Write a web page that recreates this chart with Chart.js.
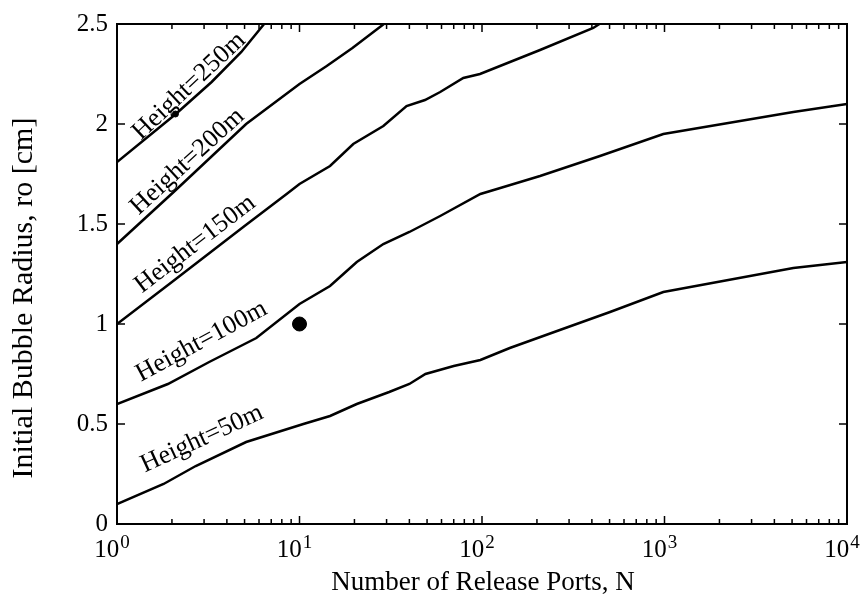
<!DOCTYPE html>
<html>
<head>
<meta charset="utf-8">
<script src="https://cdn.jsdelivr.net/npm/chart.js@4"></script>
<style>
    body { margin: 0; background: #fff; }
    #wrap { width: 865px; height: 599px; }
</style>
</head>
<body>
<div id="wrap"><canvas id="bubbleChart" width="865" height="599"></canvas></div>
<script>
// values: number of ports N vs initial radius ro [cm]
const ports50 = [1, 1.8, 2.7, 5.1, 10.5, 14.7, 20.6, 31, 40, 49, 70, 98, 142, 267, 503, 985, 5080, 10000];
const radius50 = [0.10, 0.20, 0.29, 0.41, 0.50, 0.54, 0.60, 0.66, 0.70, 0.75, 0.79, 0.82, 0.88, 0.97, 1.06, 1.16, 1.28, 1.31];

const ports100 = [1, 1.9, 3.2, 5.8, 10, 14.7, 17.4, 20.6, 28.8, 40, 59, 98, 126, 208, 443, 985, 5080, 10000];
const radius100 = [0.60, 0.70, 0.81, 0.93, 1.10, 1.19, 1.25, 1.31, 1.40, 1.46, 1.54, 1.65, 1.68, 1.74, 1.84, 1.95, 2.06, 2.10];

const ports150 = [1, 2, 5, 8.5, 10, 14.7, 19.7, 28.8, 38.6, 48.7, 59, 79, 97.5, 208, 407, 440];
const radius150 = [1.00, 1.21, 1.49, 1.65, 1.70, 1.79, 1.90, 1.99, 2.09, 2.12, 2.16, 2.23, 2.25, 2.37, 2.48, 2.50];

const ports200 = [1, 2.1, 5.1, 10, 14.1, 19.5, 29];
const radius200 = [1.40, 1.67, 2.00, 2.20, 2.29, 2.38, 2.50];

const ports250 = [1, 2.1, 3.3, 4.8, 6.4];
const radius250 = [1.81, 2.05, 2.21, 2.36, 2.50];

const heightLabels = ["Height=50m", "Height=100m", "Height=150m", "Height=200m", "Height=250m"];
const labelPorts = [3.28, 3.31, 3.03, 2.71, 2.75];

const markerPorts = [10, 2.09];
const markerRadius = [1.0, 2.05];

const xMajorTicks = [1, 10, 100, 1000, 10000];
const xExponents = ["0", "1", "2", "3", "4"];
const minorSteps = [2, 3, 4, 5, 6, 7, 8, 9];
const yTicks = [0, 0.5, 1, 1.5, 2, 2.5];
const yTickLabels = ["0", "0.5", "1", "1.5", "2", "2.5"];

const serif = "'Liberation Serif', 'Times New Roman', serif";

function toPoints(xs, ys) {
    return xs.map((x, i) => ({ x: x, y: ys[i] }));
}

const curves = [
    toPoints(ports50, radius50),
    toPoints(ports100, radius100),
    toPoints(ports150, radius150),
    toPoints(ports200, radius200),
    toPoints(ports250, radius250)
];

const lineSets = curves.map((pts, i) => ({
    label: heightLabels[i],
    data: pts,
    borderColor: "#000",
    borderWidth: 2.5,
    pointRadius: 0,
    tension: 0,
    fill: false
}));

const markerSet = {
    type: "scatter",
    label: "measured",
    data: toPoints(markerPorts, markerRadius),
    pointRadius: [7, 3],
    backgroundColor: "#000",
    borderColor: "#000"
};

// y on a drawn polyline at a pixel x
function yAtPixel(meta, px) {
    const pts = meta.data;
    for (let i = 1; i < pts.length; i++) {
        if (px <= pts[i].x) {
            const a = pts[i - 1], b = pts[i];
            const t = (px - a.x) / (b.x - a.x);
            return a.y + t * (b.y - a.y);
        }
    }
    return pts[pts.length - 1].y;
}

const labelOffsets = [15, 15, 9, 6, 5];

const framePlugin = {
    id: "frame",
    afterDatasetsDraw(chart) {
        const ctx = chart.ctx;
        const area = chart.chartArea;
        const xs = chart.scales.x;
        const ys = chart.scales.y;
        ctx.save();

        // box
        ctx.strokeStyle = "#000";
        ctx.lineWidth = 2;
        ctx.strokeRect(area.left, area.top, area.right - area.left, area.bottom - area.top);

        // inward ticks
        ctx.lineWidth = 1.5;
        ctx.beginPath();
        xMajorTicks.forEach((v, k) => {
            const px = xs.getPixelForValue(v);
            ctx.moveTo(px, area.bottom); ctx.lineTo(px, area.bottom - 8);
            ctx.moveTo(px, area.top); ctx.lineTo(px, area.top + 8);
            if (k < xMajorTicks.length - 1) {
                minorSteps.forEach(m => {
                    const mx = xs.getPixelForValue(v * m);
                    ctx.moveTo(mx, area.bottom); ctx.lineTo(mx, area.bottom - 5);
                    ctx.moveTo(mx, area.top); ctx.lineTo(mx, area.top + 5);
                });
            }
        });
        yTicks.forEach(v => {
            const py = ys.getPixelForValue(v);
            ctx.moveTo(area.left, py); ctx.lineTo(area.left + 8, py);
            ctx.moveTo(area.right, py); ctx.lineTo(area.right - 8, py);
        });
        ctx.stroke();

        // x tick labels as 10 with a raised exponent
        ctx.fillStyle = "#000";
        ctx.textBaseline = "alphabetic";
        ctx.textAlign = "left";
        xMajorTicks.forEach((v, k) => {
            const px = xs.getPixelForValue(v);
            ctx.font = "25px " + serif;
            const w1 = ctx.measureText("10").width;
            ctx.font = "19px " + serif;
            const w2 = ctx.measureText(xExponents[k]).width;
            const start = px - 5 - (w1 + w2 + 1) / 2;
            ctx.font = "25px " + serif;
            ctx.fillText("10", start, 557);
            ctx.font = "19px " + serif;
            ctx.fillText(xExponents[k], start + w1 + 1, 548);
        });

        // axis titles
        ctx.font = "27px " + serif;
        ctx.textAlign = "center";
        ctx.fillText("Number of Release Ports, N", 483, 590);
        ctx.save();
        ctx.translate(32, 298);
        ctx.rotate(-Math.PI / 2);
        ctx.font = "30px " + serif;
        ctx.fillText("Initial Bubble Radius, ro [cm]", 0, 0);
        ctx.restore();

        // curve labels along the lines
        ctx.font = "26px " + serif;
        ctx.textAlign = "center";
        ctx.textBaseline = "alphabetic";
        heightLabels.forEach((txt, i) => {
            const meta = chart.getDatasetMeta(i);
            const cx = xs.getPixelForValue(labelPorts[i]);
            const cy = yAtPixel(meta, cx);
            const y1 = yAtPixel(meta, cx - 60);
            const y2 = yAtPixel(meta, cx + 60);
            const ang = Math.atan2(y2 - y1, 120);
            const d = labelOffsets[i];
            ctx.save();
            ctx.translate(cx + d * Math.sin(ang), cy - d * Math.cos(ang));
            ctx.rotate(ang);
            ctx.fillText(txt, 0, 0);
            ctx.restore();
        });

        ctx.restore();
    }
};

new Chart(document.getElementById("bubbleChart"), {
    type: "line",
    data: { datasets: lineSets.concat([markerSet]) },
    options: {
        responsive: false,
        animation: false,
        layout: { padding: { top: 23, right: 18, left: 0, bottom: 0 } },
        plugins: { legend: { display: false }, tooltip: { enabled: false } },
        scales: {
            x: {
                type: "logarithmic",
                min: 1,
                max: 10000,
                grid: { display: false },
                border: { display: false },
                ticks: { display: false },
                afterFit(scale) { scale.height = 75; }
            },
            y: {
                type: "linear",
                min: 0,
                max: 2.5,
                grid: { display: false, drawTicks: false },
                border: { display: false },
                afterBuildTicks(scale) { scale.ticks = yTicks.map(v => ({ value: v })); },
                ticks: {
                    color: "#000",
                    padding: 9,
                    font: { family: serif, size: 25 },
                    callback: (v) => yTickLabels[yTicks.indexOf(v)]
                },
                afterFit(scale) { scale.width = 117; }
            }
        }
    },
    plugins: [framePlugin]
});
</script>
</body>
</html>
